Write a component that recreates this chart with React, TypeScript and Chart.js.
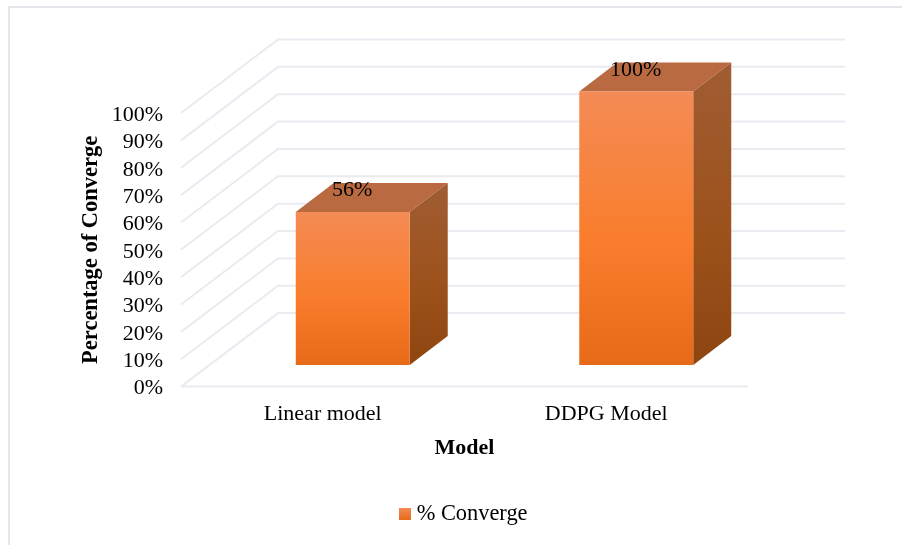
import { useEffect, useRef } from "react";
import { Chart, registerables } from "chart.js";

Chart.register(...registerables);

const categories = ["Linear model", "DDPG Model"];
const convergePercent = [56, 100];
const seriesName = "% Converge";
const xTitle = "Model";
const yTitle = "Percentage of Converge";

const SERIF = "'Liberation Serif', serif";
const GRID = "#e9ebf1";
const FRAME = "#e3e6ea";

// Oblique projection of the 3D box: full floor depth and the bar's own depth.
const FLOOR_DX = 97;
const FLOOR_DY = -73.5;
const BAR_OFFSET_X = 30;
const BAR_OFFSET_Y = -21.5;
const BAR_DX = 38;
const BAR_DY = -29;

const box3d = {
  id: "box3d",
  beforeDraw(chart: any) {
    const { ctx, scales } = chart;
    const y = scales.y;
    const { left, right, bottom } = chart.chartArea;
    ctx.save();
    // outer frame of the chart object
    ctx.strokeStyle = FRAME;
    ctx.lineWidth = 2;
    ctx.beginPath();
    ctx.moveTo(9, 545);
    ctx.lineTo(9, 7);
    ctx.lineTo(902, 7);
    ctx.stroke();
    // back wall and side wall gridlines
    ctx.strokeStyle = GRID;
    ctx.lineWidth = 2;
    y.ticks.forEach((t: any) => {
      const py = y.getPixelForValue(t.value);
      ctx.beginPath();
      ctx.moveTo(left, py);
      ctx.lineTo(left + FLOOR_DX, py + FLOOR_DY);
      ctx.lineTo(right + FLOOR_DX, py + FLOOR_DY);
      ctx.stroke();
    });
    // front edge of the floor
    ctx.beginPath();
    ctx.moveTo(left, bottom);
    ctx.lineTo(right, bottom);
    ctx.stroke();
    ctx.restore();
  },
  beforeDatasetDraw(chart: any, args: any) {
    const { ctx } = chart;
    ctx.save();
    ctx.translate(BAR_OFFSET_X, BAR_OFFSET_Y);
    args.meta.data.forEach((bar: any) => {
      const l = bar.x - bar.width / 2;
      const r = bar.x + bar.width / 2;
      const t = bar.y;
      const b = bar.base;
      // top face
      ctx.fillStyle = "#b96a40";
      ctx.beginPath();
      ctx.moveTo(l, t);
      ctx.lineTo(l + BAR_DX, t + BAR_DY);
      ctx.lineTo(r + BAR_DX, t + BAR_DY);
      ctx.lineTo(r, t);
      ctx.closePath();
      ctx.fill();
      // right side face
      const g = ctx.createLinearGradient(0, t + BAR_DY, 0, b);
      g.addColorStop(0, "#a05c33");
      g.addColorStop(0.55, "#9d521c");
      g.addColorStop(1, "#8f4510");
      ctx.fillStyle = g;
      ctx.beginPath();
      ctx.moveTo(r, t);
      ctx.lineTo(r + BAR_DX, t + BAR_DY);
      ctx.lineTo(r + BAR_DX, b + BAR_DY);
      ctx.lineTo(r, b);
      ctx.closePath();
      ctx.fill();
    });
  },
  afterDatasetDraw(chart: any, args: any) {
    const { ctx } = chart;
    ctx.restore();
    // value labels sit on the top face
    ctx.save();
    ctx.font = `22px ${SERIF}`;
    ctx.fillStyle = "#000";
    ctx.textAlign = "center";
    ctx.textBaseline = "middle";
    args.meta.data.forEach((bar: any, i: number) => {
      ctx.fillText(`${convergePercent[i]}%`, bar.x + 29.5, bar.y - 43);
    });
    ctx.restore();
  },
};

// Vertical shading of a bar's front face, scaled to that bar's height.
function barFill(context: any) {
  const { chart, raw } = context;
  const y = chart.scales.y;
  if (raw === undefined || !y) return "#f97d2c";
  const g = chart.ctx.createLinearGradient(0, y.getPixelForValue(raw), 0, y.getPixelForValue(0));
  g.addColorStop(0, "#f48b55");
  g.addColorStop(0.55, "#f97d2c");
  g.addColorStop(1, "#e66a18");
  return g;
}

// Small shaded square used as the legend swatch.
function legendSwatch() {
  const c = document.createElement("canvas");
  c.width = 12;
  c.height = 12;
  const x = c.getContext("2d")!;
  const g = x.createLinearGradient(0, 0, 0, 12);
  g.addColorStop(0, "#f48b55");
  g.addColorStop(1, "#e86c1a");
  x.fillStyle = g;
  x.fillRect(0, 0, 12, 12);
  return c;
}

export default function App() {
  const ref = useRef<HTMLCanvasElement>(null);
  useEffect(() => {
    document.body.style.margin = "0";
    const swatch = legendSwatch();
    const chart = new Chart(ref.current!, {
      type: "bar",
      data: {
        labels: categories,
        datasets: [
          {
            label: seriesName,
            data: convergePercent,
            backgroundColor: barFill,
            barPercentage: 0.402,
            categoryPercentage: 1,
            clip: false,
          } as any,
        ],
      },
      plugins: [box3d],
      options: {
        responsive: false,
        animation: false,
        layout: { padding: { left: 30, top: 113, right: 0, bottom: 10 } },
        plugins: {
          tooltip: { enabled: false },
          legend: {
            position: "bottom",
            labels: {
              font: { family: SERIF, size: 22.4 },
              color: "#000",
              usePointStyle: true,
              pointStyleWidth: 1,
              boxHeight: 12,
              padding: 5,
              generateLabels() {
                return [{ text: seriesName, pointStyle: swatch, lineWidth: 0, datasetIndex: 0 }];
              },
            },
          },
        },
        scales: {
          x: {
            grid: { display: false, drawTicks: false },
            border: { display: false },
            ticks: { font: { family: SERIF, size: 22 }, color: "#000", padding: 14 },
            title: {
              display: true,
              text: xTitle,
              color: "#000",
              font: { family: SERIF, size: 22, weight: "bold" },
              padding: { top: 6, bottom: 36 },
            },
            afterFit(scale: any) {
              scale.height = 111;
            },
          },
          y: {
            min: 0,
            max: 100,
            grid: { display: false, drawTicks: false },
            border: { display: false },
            ticks: {
              stepSize: 10,
              autoSkip: false,
              font: { family: SERIF, size: 22 },
              color: "#000",
              padding: 18,
              labelOffset: 2,
              callback: (v: any) => `${v}%`,
            },
            title: {
              display: true,
              text: yTitle,
              color: "#000",
              font: { family: SERIF, size: 22.5, weight: "bold" },
              padding: { top: 48, bottom: 0 },
            },
            afterFit(scale: any) {
              scale.width = 151;
            },
          },
          // Blank margin on the right of the plot, so the legend stays centred on the full width.
          rightMargin: {
            type: "linear",
            position: "right",
            display: true,
            grid: { display: false, drawTicks: false },
            border: { display: false },
            ticks: { display: false },
            afterFit(scale: any) {
              scale.width = 154;
            },
          },
        },
      },
    } as any);
    return () => chart.destroy();
  }, []);
  return <canvas ref={ref} width={902} height={545} style={{ display: "block" }} />;
}
